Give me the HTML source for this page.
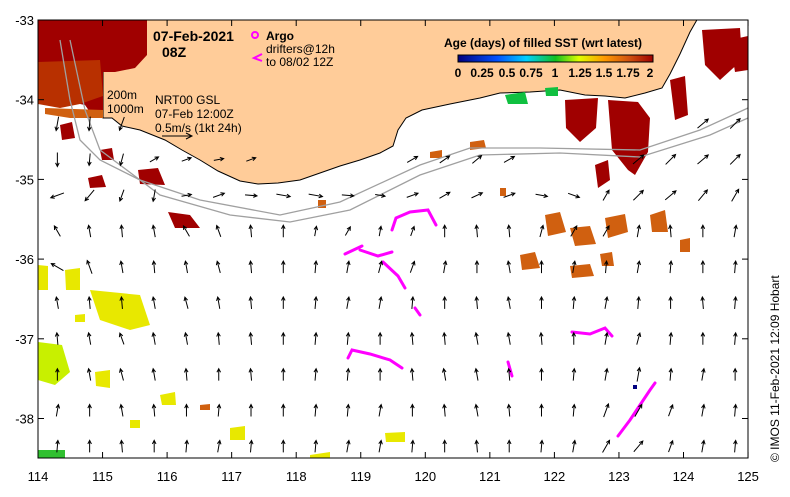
<!DOCTYPE html>
<html><head><meta charset="utf-8"><style>
body{margin:0;background:#fff;width:790px;height:492px;overflow:hidden;font-family:"Liberation Sans",sans-serif}
svg text{font-family:"Liberation Sans",sans-serif}
</style></head><body>
<svg id="chart" width="790" height="492" viewBox="0 0 790 492" xmlns="http://www.w3.org/2000/svg">
<defs>
<linearGradient id="cb" x1="0" x2="1" y1="0" y2="0">
<stop offset="0" stop-color="#00007f"/><stop offset="0.2" stop-color="#0050ff"/><stop offset="0.35" stop-color="#00d0ff"/><stop offset="0.5" stop-color="#10c020"/><stop offset="0.62" stop-color="#e0ff00"/><stop offset="0.75" stop-color="#ff9a00"/><stop offset="0.88" stop-color="#d05010"/><stop offset="1" stop-color="#a00000"/>
</linearGradient>
<clipPath id="pc"><rect x="38" y="20" width="710" height="438"/></clipPath>
</defs>
<g clip-path="url(#pc)" id="plot">
<path fill="#ffcc99" stroke="#000" stroke-width="1" d="M103,18 L103,118 L112,118 L122,126 L140,130 L165,140 L182,150 L200,160 L218,171 L240,181 L258,184 L278,183 L300,180 L320,173 L340,166 L360,160 L380,153 L393,146 L398,130 L406,118 L422,110 L450,104 L480,98 L500,93 L530,92 L560,90 L585,95 L605,96 L625,98 L645,93 L662,88 L670,74 L680,54 L690,32 L698,18 Z"/>
<g id="sst">
<path fill="#a00000" d="M38,20 L147,20 L147,55 L135,68 L115,72 L103,72 L103,118 L92,115 L85,105 L60,100 L38,98 Z"/>
<path fill="#b83000" d="M38,62 L100,60 L103,96 L80,104 L60,108 L38,104 Z"/>
<path fill="#d06010" d="M45,108 L103,110 L103,118 L70,118 L45,114 Z"/>
<path fill="#a00000" d="M60,125 L72,122 L75,138 L62,140 Z M88,178 L102,175 L106,187 L90,188 Z M138,170 L158,168 L165,185 L140,184 Z M168,212 L190,215 L200,228 L175,228 Z M100,150 L112,148 L114,160 L102,160 Z"/>
<path fill="#a00000" d="M565,100 L598,98 L596,128 L580,142 L566,128 Z M608,100 L638,102 L650,118 L648,152 L635,175 L628,170 L612,150 Z M595,165 L608,160 L610,180 L598,188 Z M670,80 L685,76 L688,115 L675,120 Z M702,30 L740,28 L742,60 L720,80 L705,65 Z M730,40 L748,36 L748,70 L735,72 Z"/>
<path fill="#d06010" d="M545,215 L560,212 L566,232 L548,236 Z M570,228 L590,226 L596,244 L575,246 Z M605,218 L625,214 L628,232 L608,238 Z M650,215 L665,210 L668,232 L652,232 Z M520,255 L535,252 L540,268 L522,270 Z M570,266 L590,264 L594,276 L572,278 Z M600,254 L612,252 L614,266 L602,266 Z M680,240 L690,238 L690,252 L680,252 Z M470,142 L484,140 L486,148 L470,150 Z M430,152 L442,150 L442,158 L430,158 Z M500,188 L506,188 L506,196 L500,196 Z M200,405 L210,404 L210,410 L200,410 Z M318,200 L326,200 L326,208 L318,208 Z"/>
<path fill="#10c040" d="M505,95 L525,92 L528,104 L508,104 Z M545,88 L558,87 L558,96 L546,96 Z"/>
<path fill="#e8e800" d="M90,290 L140,295 L150,325 L130,330 L100,320 Z M65,270 L80,268 L80,290 L66,290 Z M38,265 L48,266 L48,290 L38,290 Z M95,372 L110,370 L110,388 L96,386 Z M160,395 L175,392 L176,405 L162,405 Z M230,428 L245,426 L245,440 L230,440 Z M385,433 L405,432 L405,442 L386,442 Z M130,420 L140,420 L140,428 L130,428 Z M75,315 L85,314 L85,322 L75,322 Z M310,455 L330,452 L330,458 L310,458 Z"/>
<path fill="#c8f000" d="M38,342 L62,345 L70,372 L55,385 L38,380 Z"/>
<path fill="#30c030" d="M38,450 L65,450 L65,458 L38,458 Z"/>
<path fill="#00007f" d="M633,385 L637,385 L637,389 L633,389 Z"/>
</g>
<g fill="none" stroke="#a0a0a0" stroke-width="1.3">
<path d="M60,40 L70,100 L80,140 L100,160 L140,180 L200,200 L280,215 L340,202 L420,165 L470,148 L540,148 L640,150 L700,130 L748,108"/>
<path d="M70,40 L85,110 L100,150 L160,195 L230,215 L290,222 L350,210 L420,175 L480,155 L560,153 L640,157 L710,135 L748,118"/>
</g>
<g fill="none" stroke="#ff00ff" stroke-width="3" stroke-linecap="round">
<path d="M392,230 L396,218 L410,212 L428,210 L436,225"/>
<path d="M345,254 L362,246 M360,250 L378,256 L392,252"/>
<path d="M383,262 L398,276 L405,288"/>
<path d="M415,308 L420,315"/>
<path d="M348,358 L352,350 L370,354 L390,360 L402,368"/>
<path d="M508,362 L512,376"/>
<path d="M572,332 L590,334 L605,328 L612,336"/>
<path d="M618,436 L630,420 L640,405 L650,390 L655,383"/>
</g>
<g id="arrows" stroke="#000" stroke-width="1" fill="none"></g>
</g>
<rect x="38" y="20" width="710" height="438" fill="none" stroke="#000"/>
<g id="axes" font-size="13" fill="#000"></g>
<g>
<text x="153" y="41" font-size="14" font-weight="bold">07-Feb-2021</text>
<text x="162" y="57" font-size="14" font-weight="bold">08Z</text>
<circle cx="255" cy="35" r="3" fill="none" stroke="#ff00ff" stroke-width="2"/>
<text x="266" y="40" font-size="12" font-weight="bold">Argo</text>
<text x="266" y="53" font-size="12">drifters@12h</text>
<path d="M262,54 L254,58 L262,61" stroke="#ff00ff" stroke-width="2" fill="none"/>
<text x="266" y="66" font-size="12">to 08/02 12Z</text>
<text x="107" y="99" font-size="12">200m</text>
<text x="107" y="113" font-size="12">1000m</text>
<text x="155" y="104" font-size="12">NRT00 GSL</text>
<text x="155" y="118" font-size="12">07-Feb 12:00Z</text>
<text x="155" y="132" font-size="12">0.5m/s (1kt 24h)</text>
<path d="M162,136 L192,136 M186,133 L192,136 L186,139" stroke="#000" fill="none"/>
</g>
<g>
<text x="444" y="47" font-size="12" font-weight="bold">Age (days) of filled SST (wrt latest)</text>
<rect x="458" y="55" width="195" height="7" fill="url(#cb)" stroke="#000"/>
<g font-size="12" font-weight="bold" text-anchor="middle">
<text x="458" y="77">0</text><text x="482" y="77">0.25</text><text x="507" y="77">0.5</text><text x="531" y="77">0.75</text><text x="555" y="77">1</text><text x="580" y="77">1.25</text><text x="604" y="77">1.5</text><text x="628" y="77">1.75</text><text x="650" y="77">2</text>
</g>
</g>
<text transform="translate(779,462) rotate(-90)" font-size="12">© IMOS 11-Feb-2021 12:09 Hobart</text>
</svg>
<script>
const lonTicks=[114,115,116,117,118,119,120,121,122,123,124,125];
const latTicks=[-33,-34,-35,-36,-37,-38];
// arrow field: angle in degrees (0=east, 90=north) per row, rows from lat -34.2 to -38.4
const arrowLats=[-34.3,-34.75,-35.2,-35.65,-36.1,-36.55,-37.0,-37.45,-37.9,-38.35];
const arrowLons=[114.3,114.8,115.3,115.8,116.3,116.8,117.3,117.8,118.3,118.8,119.3,119.8,120.3,120.8,121.3,121.8,122.3,122.8,123.3,123.8,124.3,124.8];
const arrowAng=[
[260,265,250,0,0,0,0,0,0,0,0,0,0,0,0,0,0,0,0,0,40,45],
[270,265,255,30,20,10,20,0,0,0,0,30,35,40,30,0,0,0,40,45,40,45],
[200,230,250,260,10,20,-5,-10,-10,-5,-10,20,30,25,20,-10,-20,60,45,40,50,60],
[120,100,95,100,120,110,95,90,80,60,80,70,90,95,95,75,60,60,80,95,90,80],
[150,110,100,95,100,105,95,90,85,80,75,70,80,90,100,90,80,85,80,85,90,85],
[100,95,95,100,105,100,95,90,85,80,80,85,90,95,100,90,85,80,85,90,95,85],
[95,100,110,100,100,95,95,90,85,85,90,95,95,100,100,95,90,80,75,85,90,85],
[90,100,105,100,95,90,95,90,85,85,90,95,100,100,95,90,85,80,80,85,80,90],
[80,90,100,95,90,85,90,90,85,85,80,90,95,100,95,90,85,70,60,70,80,85],
[85,90,95,90,85,80,85,90,85,80,80,85,90,95,90,85,80,60,50,70,80,85]];
const arrowLen=[
[14,14,14,0,0,0,0,0,0,0,0,0,0,0,0,0,0,0,0,0,14,14],
[14,12,12,10,10,10,10,0,0,0,0,12,12,12,12,0,0,0,14,14,14,14],
[14,14,12,12,10,12,12,14,14,12,10,12,12,12,12,12,12,12,14,14,14,14],
[12,12,12,12,12,12,12,12,10,10,10,10,12,12,12,12,12,12,12,12,12,12],
[14,14,12,12,12,12,12,12,12,12,12,12,12,12,12,12,12,12,12,12,12,12],
[12,12,12,12,12,12,12,12,12,12,12,12,12,12,12,12,12,12,12,12,12,12],
[12,12,12,12,12,12,12,12,12,12,12,12,12,12,12,12,12,12,12,12,12,12],
[12,12,12,12,12,12,12,12,12,12,12,12,12,12,12,12,12,12,14,12,12,12],
[12,12,12,12,12,12,12,12,12,12,12,12,12,12,12,12,12,14,14,12,12,12],
[12,12,12,12,12,12,12,12,12,12,12,12,12,12,12,12,12,14,14,12,12,12]];
const X=lon=>38+(lon-114)*64.55;
const Y=lat=>20+(-33-lat)*79.7;
const ns='http://www.w3.org/2000/svg';
const ag=document.getElementById('arrows');
arrowLats.forEach((lat,r)=>arrowLons.forEach((lon,c)=>{
  const L=arrowLen[r][c]; if(!L)return;
  const a=arrowAng[r][c]*Math.PI/180, x=X(lon), y=Y(lat);
  const dx=Math.cos(a)*L, dy=-Math.sin(a)*L;
  const x1=x-dx/2,y1=y-dy/2,x2=x+dx/2,y2=y+dy/2;
  const h1=a+Math.PI*0.85,h2=a-Math.PI*0.85;
  const p=document.createElementNS(ns,'path');
  p.setAttribute('d',`M${x1},${y1} L${x2},${y2} M${x2+Math.cos(h1)*4},${y2-Math.sin(h1)*4} L${x2},${y2} L${x2+Math.cos(h2)*4},${y2-Math.sin(h2)*4}`);
  
  
  ag.appendChild(p);
}));
const ax=document.getElementById('axes');
lonTicks.forEach(v=>{
  const x=X(v);
  ['20','458'].forEach((yy,i)=>{const l=document.createElementNS(ns,'line');l.setAttribute('x1',x);l.setAttribute('x2',x);l.setAttribute('y1',yy);l.setAttribute('y2',i?452:26);l.setAttribute('stroke','#000');ax.appendChild(l);});
  const t=document.createElementNS(ns,'text');
  
  
  t.setAttribute('x',x);t.setAttribute('y',481);t.setAttribute('text-anchor','middle');t.textContent=v;ax.appendChild(t);
});
latTicks.forEach(v=>{
  const y=Y(v);
  [[38,44],[742,748]].forEach(p=>{const l=document.createElementNS(ns,'line');l.setAttribute('x1',p[0]);l.setAttribute('x2',p[1]);l.setAttribute('y1',y);l.setAttribute('y2',y);l.setAttribute('stroke','#000');ax.appendChild(l);});
  const t=document.createElementNS(ns,'text');
  
  
  t.setAttribute('x',34);t.setAttribute('y',y+5);t.setAttribute('text-anchor','end');t.textContent=v;ax.appendChild(t);
});
</script>
</body></html>
